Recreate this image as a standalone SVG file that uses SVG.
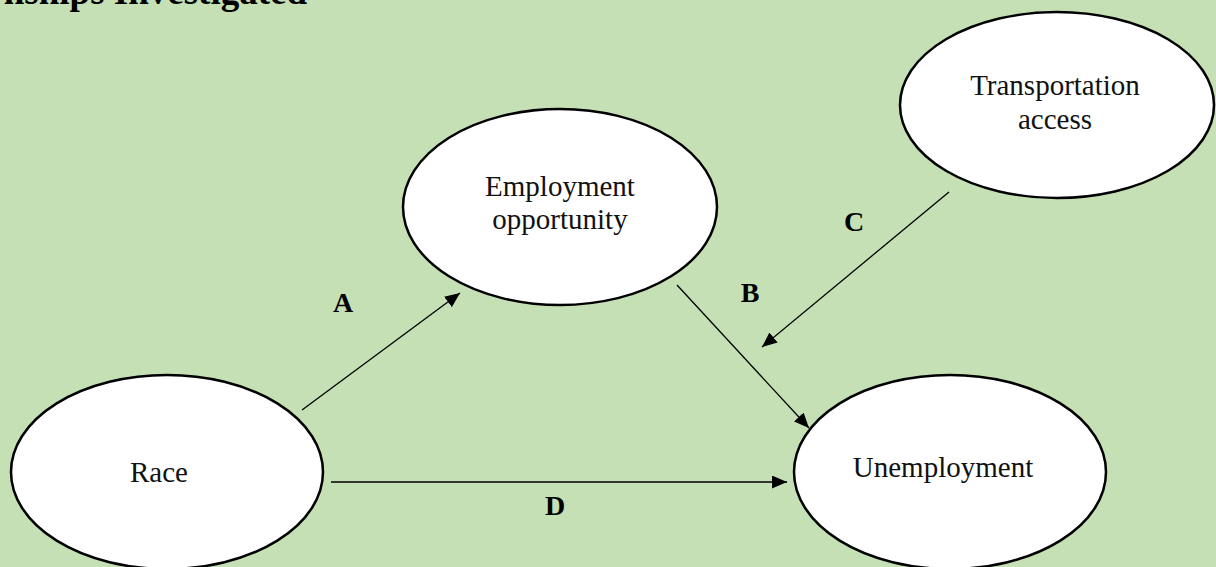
<svg xmlns="http://www.w3.org/2000/svg" width="1216" height="567" viewBox="0 0 1216 567">
<defs>
<style>
.node ellipse{fill:#fff;stroke:#000;stroke-width:2.5}
.lbl{font-family:"Liberation Serif","Times New Roman",serif;font-size:29px;fill:#111;text-anchor:middle}
.tag{font-family:"Liberation Serif","Times New Roman",serif;font-size:28px;font-weight:bold;fill:#000;text-anchor:middle}
.edge{stroke:#000;stroke-width:1.3;fill:none;marker-end:url(#ah)}
</style>
<marker id="ah" markerUnits="userSpaceOnUse" markerWidth="16" markerHeight="14" refX="15" refY="6.5" orient="auto">
<path d="M0,0 L15,6.5 L0,13 z" fill="#000"/>
</marker>
</defs>
<rect width="1216" height="567" fill="#C5E0B4"/>
<text x="307" y="4" font-family="'Liberation Serif','Times New Roman',serif" font-size="37" font-weight="bold" text-anchor="end" fill="#000">nships Investigated</text>
<g id="connectors">
<line class="edge" x1="302" y1="410" x2="460" y2="293"/>
<line class="edge" x1="677" y1="285" x2="809" y2="428"/>
<line class="edge" x1="949" y1="192" x2="762" y2="347"/>
<line class="edge" x1="331" y1="482" x2="787" y2="482" style="stroke-width:1.6"/>
<text class="tag" x="343" y="312">A</text>
<text class="tag" x="750" y="302">B</text>
<text class="tag" x="854" y="231">C</text>
<text class="tag" x="555" y="515">D</text>
</g>
<g id="race" class="node">
<ellipse cx="167" cy="472" rx="156" ry="97"/>
<text class="lbl" x="159" y="482">Race</text>
</g>
<g id="unemployment" class="node">
<ellipse cx="950" cy="472" rx="156" ry="97"/>
<text class="lbl" x="943" y="477">Unemployment</text>
</g>
<g id="employment" class="node">
<ellipse cx="560" cy="207" rx="157" ry="98"/>
<text class="lbl" x="560" y="196">Employment</text>
<text class="lbl" x="560" y="229">opportunity</text>
</g>
<g id="transportation" class="node">
<ellipse cx="1057" cy="105" rx="157" ry="93"/>
<text class="lbl" x="1055" y="95">Transportation</text>
<text class="lbl" x="1055" y="129">access</text>
</g>
</svg>
